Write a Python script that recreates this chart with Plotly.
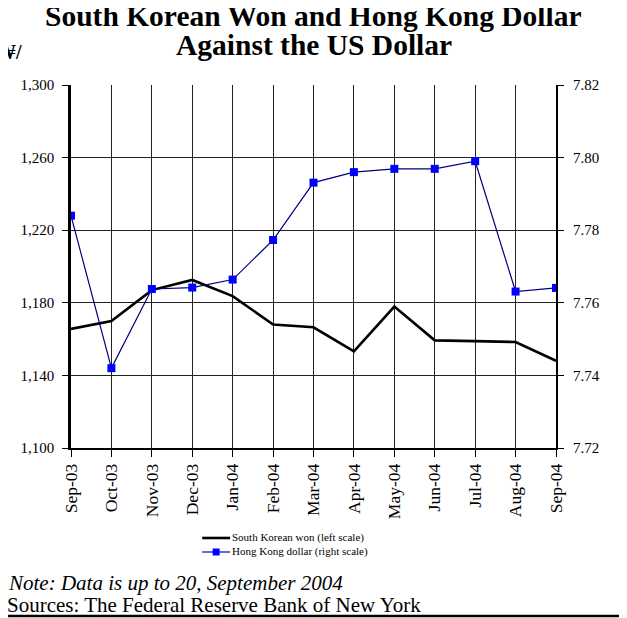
import plotly.graph_objects as go

months = ["Sep-03", "Oct-03", "Nov-03", "Dec-03", "Jan-04", "Feb-04", "Mar-04",
          "Apr-04", "May-04", "Jun-04", "Jul-04", "Aug-04", "Sep-04"]
krw = [1165.6, 1170.0, 1187.0, 1192.6, 1183.7, 1168.0, 1166.5,
       1153.3, 1177.9, 1159.3, 1158.9, 1158.4, 1148.1]
hkd = [7.7840, 7.7420, 7.7638, 7.7642, 7.7664, 7.7773, 7.7931,
       7.7960, 7.7969, 7.7969, 7.7990, 7.7631, 7.7641]
legend_names = ["South Korean won (left scale)", "Hong Kong dollar (right scale)"]

FONT = "Liberation Serif, Times New Roman, serif"

fig = go.Figure()
fig.add_trace(go.Scatter(
    x=months, y=krw, name=legend_names[0], mode="lines",
    line=dict(color="black", width=2.6), yaxis="y"))
fig.add_trace(go.Scatter(
    x=months, y=hkd, name=legend_names[1], mode="lines+markers",
    line=dict(color="#000080", width=1.2),
    marker=dict(symbol="square", size=8, color="#0000FF"), yaxis="y2"))

fig.update_layout(
    width=627, height=618,
    margin=dict(l=60, r=79, t=77, b=178),
    paper_bgcolor="white", plot_bgcolor="white",
    font=dict(family=FONT, color="black", size=15),
    showlegend=False,
    xaxis=dict(type="category", range=[0, 12], tickangle=-90,
               showgrid=True, gridcolor="#222", gridwidth=1,
               ticks="outside", ticklen=7, tickcolor="black",
               showline=True, linecolor="black", linewidth=1.5,
               tickfont=dict(size=17.5, family=FONT)),
    yaxis=dict(range=[1100, 1300], dtick=40, tick0=1100, tickformat=",d",
               showgrid=True, gridcolor="#222", gridwidth=1,
               ticks="outside", ticklen=6, tickcolor="black",
               showline=True, linecolor="black", linewidth=2.5,
               ticklabelstandoff=5,
               zeroline=False, tickfont=dict(size=15, family=FONT)),
    yaxis2=dict(range=[7.72, 7.82], dtick=0.02, tick0=7.72, tickformat=".2f",
                overlaying="y", side="right", showgrid=False,
                ticks="outside", ticklen=6, tickcolor="black",
                showline=True, linecolor="black", linewidth=2,
                ticklabelstandoff=6,
                zeroline=False, tickfont=dict(size=15, family=FONT)),
)

# Title
fig.add_annotation(text="<b>South Korean Won and Hong Kong Dollar</b>",
                   x=0.5, y=1.19, xref="paper", yref="paper",
                   xanchor="center", yanchor="middle", showarrow=False,
                   font=dict(size=29.5, family=FONT))
fig.add_annotation(text="<b>Against the US Dollar</b>",
                   x=0.5, y=1.111, xref="paper", yref="paper",
                   xanchor="center", yanchor="middle", showarrow=False,
                   font=dict(size=29.5, family=FONT))

fig.add_annotation(text="<b>₩/</b>", x=-0.097, y=1.091, xref="paper", yref="paper",
                   xanchor="right", yanchor="middle", showarrow=False,
                   font=dict(size=20, family=FONT))

# Manual legend
leg_y = [-0.2479, -0.2865]
fig.add_shape(type="line", xref="paper", yref="paper",
              x0=0.2705, x1=0.3279, y0=leg_y[0], y1=leg_y[0],
              line=dict(color="black", width=2.6))
fig.add_shape(type="line", xref="paper", yref="paper",
              x0=0.2705, x1=0.3279, y0=leg_y[1], y1=leg_y[1],
              line=dict(color="#0000CC", width=1.2))
fig.add_shape(type="rect", xref="paper", yref="paper",
              x0=0.2992 - 0.0072, x1=0.2992 + 0.0072,
              y0=leg_y[1] - 0.0097, y1=leg_y[1] + 0.0097,
              line=dict(width=0), fillcolor="#0000FF")
for name, ly in zip(legend_names, leg_y):
    fig.add_annotation(text=name, x=0.328, y=ly, xref="paper", yref="paper",
                       xanchor="left", yanchor="middle", showarrow=False,
                       font=dict(size=11, family=FONT))

fig.add_annotation(text="<i>Note: Data is up to 20, September 2004</i>",
                   x=-0.133, y=-0.372, xref="paper", yref="paper",
                   xanchor="left", yanchor="middle", showarrow=False,
                   font=dict(size=21, family=FONT))
fig.add_annotation(text="Sources: The Federal Reserve Bank of New York",
                   x=-0.137, y=-0.432, xref="paper", yref="paper",
                   xanchor="left", yanchor="middle", showarrow=False,
                   font=dict(size=21, family=FONT))
fig.add_shape(type="line", xref="paper", yref="paper",
              x0=-0.14, x1=1.15, y0=-0.4625, y1=-0.4625,
              line=dict(color="black", width=2.5))

fig.write_html("out.html")
